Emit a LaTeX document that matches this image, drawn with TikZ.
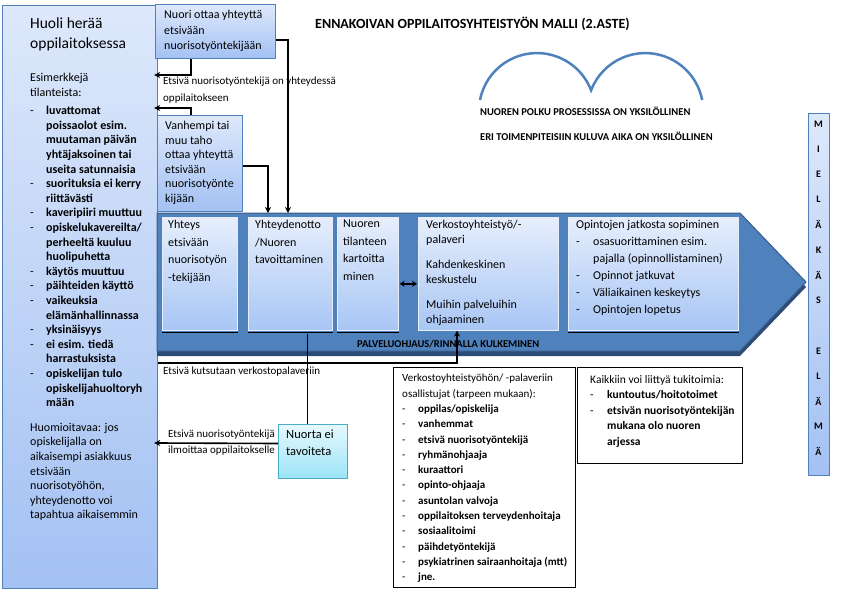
\documentclass[tikz,border=0pt]{standalone}
\usepackage{fontspec}
\setmainfont{Carlito}
\usetikzlibrary{arrows.meta,calc}

\definecolor{boxblue}{HTML}{4F81BD}
\definecolor{edgeblue}{HTML}{385D8A}
\definecolor{shadeblue}{HTML}{2C4C76}
\definecolor{paletop}{HTML}{DDE8FB}
\definecolor{palebot}{HTML}{A3C1F3}
\definecolor{steptop}{HTML}{E6EEFC}
\definecolor{stepbot}{HTML}{A8C6F5}
\definecolor{cyantop}{HTML}{E6F9FD}
\definecolor{cyanbot}{HTML}{9BE4F7}
\definecolor{cyanedge}{HTML}{4BACC6}

\newcommand{\dashline}[2]{\makebox[#1][l]{-}#2}
\newcommand{\indline}[2]{\hspace*{#1}#2}

\tikzset{
  bluebox/.style={draw=boxblue, line width=1.2pt, top color=paletop, bottom color=palebot, anchor=north west, inner sep=0pt},
  stepbox/.style={draw=steptop, line width=0.6pt, top color=steptop, bottom color=stepbot, anchor=north west, inner sep=0pt},
  cyanbox/.style={draw=cyanedge, line width=1pt, top color=cyantop, bottom color=cyanbot, anchor=north west, inner sep=0pt},
  listbox/.style={draw=black, line width=1pt, fill=white, anchor=north west, inner sep=0pt},
  txt/.style={anchor=north west, inner sep=0pt, align=left},
  conn/.style={line width=1.6pt, -{Stealth[length=6pt,width=6pt]}},
  dblconn/.style={line width=1.6pt, {Stealth[length=5pt,width=6pt]}-{Stealth[length=5pt,width=6pt]}},
  thinconn/.style={line width=0.8pt},
}

\begin{document}
\begin{tikzpicture}[x=1pt,y=-1pt]
		\useasboundingbox (0,0) rectangle (842,595);
		%%%%% LEFT PANEL %%%%%
		\node[bluebox, minimum width=155pt, minimum height=583pt] (panel) at (2,5) {};
		\node[txt, font=\fontsize{15.5}{19.5}\selectfont] (paneltitle) at (30,18) {Huoli herää\\oppilaitoksessa};
		\node[txt, font=\fontsize{12}{14.6}\selectfont] (paneltext) at (30,73) {Esimerkkejä\\tilanteista:\\[4pt]
			\dashline{16pt}{\textbf{luvattomat}}\\
			\indline{16pt}{\textbf{poissaolot esim.}}\\
			\indline{16pt}{\textbf{muutaman päivän}}\\
			\indline{16pt}{\textbf{yhtäjaksoinen tai}}\\
			\indline{16pt}{\textbf{useita satunnaisia}}\\
			\dashline{16pt}{\textbf{suorituksia ei kerry}}\\
			\indline{16pt}{\textbf{riittävästi}}\\
			\dashline{16pt}{\textbf{kaveripiiri muuttuu}}\\
			\dashline{16pt}{\textbf{opiskelukavereilta/}}\\
			\indline{16pt}{\textbf{perheeltä kuuluu}}\\
			\indline{16pt}{\textbf{huolipuhetta}}\\
			\dashline{16pt}{\textbf{käytös muuttuu}}\\
			\dashline{16pt}{\textbf{päihteiden käyttö}}\\
			\dashline{16pt}{\textbf{vaikeuksia}}\\
			\indline{16pt}{\textbf{elämänhallinnassa}}\\
			\dashline{16pt}{\textbf{yksinäisyys}}\\
			\dashline{16pt}{\textbf{ei esim. tiedä}}\\
			\indline{16pt}{\textbf{harrastuksista}}\\
			\dashline{16pt}{\textbf{opiskelijan tulo}}\\
			\indline{16pt}{\textbf{opiskelijahuoltoryh}}\\
			\indline{16pt}{\textbf{mään}}\\[10pt]
			Huomioitavaa: jos\\opiskelijalla on\\aikaisempi asiakkuus\\etsivään\\nuorisotyöhön,\\yhteydenotto voi\\tapahtua aikaisemmin};
		
		%%%%% TOP BOXES %%%%%
		\node[bluebox, minimum width=120pt, minimum height=54pt] (nuori) at (155,4) {};
		\node[txt, font=\fontsize{12}{15.5}\selectfont] (nuoritxt) at (164,10) {Nuori ottaa yhteyttä\\etsivään\\nuorisotyöntekijään};
		\node[bluebox, minimum width=85pt, minimum height=96pt] (vanhempi) at (157,115) {};
		\node[txt, font=\fontsize{12}{14.6}\selectfont] (vanhempitxt) at (165,121) {Vanhempi tai\\muu taho\\ottaa yhteyttä\\etsivään\\nuorisotyönte\\kijään};
		\node[txt, font=\fontsize{11}{16.5}\selectfont] (yhteyslbl) at (163,77) {Etsivä nuorisotyöntekijä on yhteydessä\\oppilaitokseen};
		
		%%%%% TITLE AND HEART %%%%%
		\node[anchor=base west, inner sep=0pt, font=\fontsize{14}{16}\selectfont\bfseries] (title) at (315,28) {ENNAKOIVAN OPPILAITOSYHTEISTYÖN MALLI (2.ASTE)};
		\draw[boxblue, line width=2.5pt] (480,100) arc[start angle=191, end angle=339, radius=58] arc[start angle=201, end angle=349, radius=58];
		\node[anchor=base west, inner sep=0pt, font=\fontsize{10.5}{12}\selectfont\bfseries] (polku) at (480,115) {NUOREN POLKU PROSESSISSA ON YKSILÖLLINEN};
		\node[anchor=base west, inner sep=0pt, font=\fontsize{10.5}{12}\selectfont\bfseries] (aika) at (480,140) {ERI TOIMENPITEISIIN KULUVA AIKA ON YKSILÖLLINEN};
		
		%%%%% PROCESS ARROW %%%%%
		\fill[shadeblue] (157,218) -- (740,218) -- (806,287) -- (740,356) -- (157,356) -- cycle;
		\filldraw[fill=boxblue, draw=edgeblue, line width=1pt] (157,213) -- (740,213) -- (806,282) -- (740,351) -- (157,351) -- cycle;
		\node[stepbox, minimum width=75pt, minimum height=113pt] (b1) at (162,217) {};
		\node[stepbox, minimum width=84pt, minimum height=113pt] (b2) at (248,217) {};
		\node[stepbox, minimum width=61pt, minimum height=113pt] (b3) at (337,217) {};
		\node[stepbox, minimum width=140pt, minimum height=113pt] (b4) at (418,217) {};
		\node[stepbox, minimum width=170pt, minimum height=113pt] (b5) at (568,217) {};
		\foreach \b in {b1,b2,b3,b5}
			\draw[line width=0.8pt] ([yshift=-2pt]\b.south west) -- ([yshift=-2pt]\b.south east);
		\node[txt, font=\fontsize{12}{17.5}\selectfont] (b1txt) at (168,220) {Yhteys\\etsivään\\nuorisotyön\\-tekijään};
		\node[txt, font=\fontsize{12}{17.5}\selectfont] (b2txt) at (255,220) {Yhteydenotto\\/Nuoren\\tavoittaminen};
		\node[txt, font=\fontsize{12}{17.5}\selectfont] (b3txt) at (343,220) {Nuoren\\tilanteen\\kartoitta\\minen};
		\node[txt, font=\fontsize{12}{15}\selectfont] (b4txt) at (426,220) {Verkostoyhteistyö/-\\palaveri\\[10pt]Kahdenkeskinen\\keskustelu\\[10pt]Muihin palveluihin\\ohjaaminen};
		\node[txt, font=\fontsize{12}{17}\selectfont] (b5txt) at (576,220) {Opintojen jatkosta sopiminen\\
			\dashline{17pt}{osasuorittaminen esim.}\\
			\indline{17pt}{pajalla (opinnollistaminen)}\\
			\dashline{17pt}{Opinnot jatkuvat}\\
			\dashline{17pt}{Väliaikainen keskeytys}\\
			\dashline{17pt}{Opintojen lopetus}};
		\node[anchor=base west, inner sep=0pt, font=\fontsize{10.5}{12}\selectfont\bfseries] (ohjaus) at (357,347) {PALVELUOHJAUS/RINNALLA KULKEMINEN};
		
		%%%%% LOWER BOXES %%%%%
		\node[cyanbox, minimum width=69pt, minimum height=54pt] (nuortaei) at (278,424) {};
		\node[txt, font=\fontsize{12.5}{17}\selectfont] (nuortaeitxt) at (286,430) {Nuorta ei\\tavoiteta};
		\node[txt, font=\fontsize{11}{16.5}\selectfont] (kutsulbl) at (163,367) {Etsivä kutsutaan verkostopalaveriin};
		\node[txt, font=\fontsize{11}{16}\selectfont] (ilmoituslbl) at (168,430) {Etsivä nuorisotyöntekijä\\ilmoittaa oppilaitokselle};
		\node[listbox, minimum width=182pt, minimum height=220pt] (osalliset) at (393,367) {};
		\node[txt, font=\fontsize{11}{15.3}\selectfont] (osallisettxt) at (402,374) {Verkostoyhteistyöhön/ -palaveriin\\osallistujat (tarpeen mukaan):\\
			\dashline{16pt}{\textbf{oppilas/opiskelija}}\\
			\dashline{16pt}{\textbf{vanhemmat}}\\
			\dashline{16pt}{\textbf{etsivä nuorisotyöntekijä}}\\
			\dashline{16pt}{\textbf{ryhmänohjaaja}}\\
			\dashline{16pt}{\textbf{kuraattori}}\\
			\dashline{16pt}{\textbf{opinto-ohjaaja}}\\
			\dashline{16pt}{\textbf{asuntolan valvoja}}\\
			\dashline{16pt}{\textbf{oppilaitoksen terveydenhoitaja}}\\
			\dashline{16pt}{\textbf{sosiaalitoimi}}\\
			\dashline{16pt}{\textbf{päihdetyöntekijä}}\\
			\dashline{16pt}{\textbf{psykiatrinen sairaanhoitaja (mtt)}}\\
			\dashline{16pt}{\textbf{jne.}}};
		\node[listbox, minimum width=165pt, minimum height=96pt] (tuki) at (577,367) {};
		\node[txt, font=\fontsize{11.5}{15.5}\selectfont] (tukitxt) at (590,375) {Kaikkiin voi liittyä tukitoimia:\\
			\dashline{17pt}{\textbf{kuntoutus/hoitotoimet}}\\
			\dashline{17pt}{\textbf{etsivän nuorisotyöntekijän}}\\
			\indline{17pt}{\textbf{mukana olo nuoren}}\\
			\indline{17pt}{\textbf{arjessa}}};
		
		%%%%% RIGHT BAR %%%%%
		\node[bluebox, minimum width=21pt, minimum height=362pt] (mieli) at (808,113) {};
		\foreach \l [count=\i from 0] in {M,I,E,L,Ä,K,Ä,S,{},E,L,Ä,M,Ä}
			\node[font=\fontsize{10}{12}\selectfont\bfseries, inner sep=0pt] (m\i) at (818.5,{124+25.2*\i}) {\l};
		
		%%%%% CONNECTORS %%%%%
		\draw[conn, shorten >=-4pt] ([xshift=36pt]nuori.south west) |- (panel.east |- 0,75);
		\draw[conn, shorten >=-4pt] ([xshift=34pt]vanhempi.north west) |- (panel.east |- 0,108);
		\draw[conn, shorten >=4pt] (nuori.east |- 0,40) -| ([xshift=40pt]b2.north west);
		\draw[conn, shorten >=4pt] (vanhempi.east |- 0,166) -| ([xshift=20pt]b2.north west);
		\draw[dblconn, shorten <=1pt, shorten >=1pt] ([yshift=-10pt]b3.east) -- ([yshift=-10pt]b4.west);
		\coordinate (drop) at ([xshift=29pt]nuortaei.north west);
		\draw[thinconn] (drop) -- ([yshift=-3pt]drop |- b2.south);
		\draw[conn] (panel.east |- 0,363) -| ([xshift=39pt]b4.south west);
		\draw[conn, shorten >=-4pt] ([yshift=8pt]nuortaei.west) -- (panel.east |- 0,443);
		
	\end{tikzpicture}
\end{document}
